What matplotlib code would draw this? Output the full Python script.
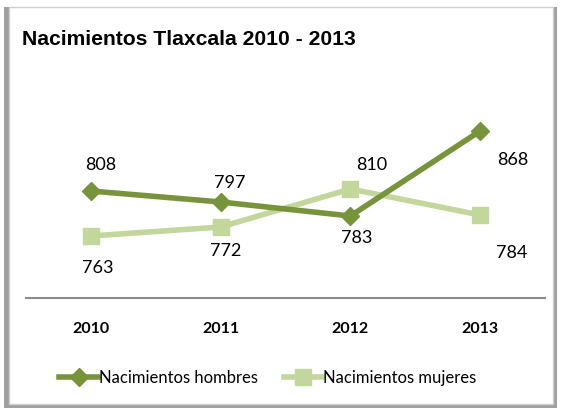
import matplotlib.pyplot as plt
from matplotlib.patches import FancyBboxPatch

years = ['2010', '2011', '2012', '2013']
hombres = [808, 797, 783, 868]
mujeres = [763, 772, 810, 784]

body_font = 'Lato'
c_h = '#77933C'
c_m = '#C3D69B'

fig = plt.figure(figsize=(5.61, 4.13), dpi=100)

# frame with shadow
shadow = FancyBboxPatch((0.008, 0.012), 0.984, 0.972, boxstyle='square,pad=0',
                        transform=fig.transFigure, facecolor='#a0a0a0', edgecolor='none', zorder=0)
frame = FancyBboxPatch((0.016, 0.022), 0.97, 0.962, boxstyle='square,pad=0',
                       transform=fig.transFigure, facecolor='white', edgecolor='#d0d0d0', lw=1, zorder=1)
fig.patches.extend([shadow, frame])

fig.text(0.039, 0.891, 'Nacimientos Tlaxcala 2010 - 2013', ha='left', va='baseline', zorder=3,
         family='Liberation Sans', fontweight='bold', fontsize=15.2)

ax = fig.add_axes([26 / 561, 1 - 298 / 413, 519 / 561, 182 / 413])
ax.set_zorder(2)
ax.patch.set_alpha(0)
x = range(len(years))
ax.plot(x, hombres, color=c_h, lw=4, marker='D', markersize=9, label='Nacimientos hombres', zorder=3)
ax.plot(x, mujeres, color=c_m, lw=4, marker='s', markersize=11, label='Nacimientos mujeres', zorder=2)

ax.set_xlim(-0.5, 3.5)
ax.set_ylim(701, 883)
ax.set_xticks(list(x))
ax.set_xticklabels(years, fontsize=11.5, fontweight='bold', family=body_font)
ax.tick_params(axis='x', length=0, pad=17)
ax.set_yticks([])
for s in ['top', 'left', 'right']:
    ax.spines[s].set_visible(False)
ax.spines['bottom'].set_color('#8c8c8c')
ax.spines['bottom'].set_linewidth(1.5)

off_h = [(10, 26), (9, 19), (6, -22), (33, -29)]
off_m = [(7, -32), (5, -24), (21, 24), (32, -38)]
for i in x:
    ax.annotate(str(hombres[i]), (i, hombres[i]), xytext=off_h[i], textcoords='offset pixels',
                ha='center', va='center', fontsize=13, family=body_font)
    ax.annotate(str(mujeres[i]), (i, mujeres[i]), xytext=off_m[i], textcoords='offset pixels',
                ha='center', va='center', fontsize=13, family=body_font)

leg = fig.legend(loc='center', bbox_to_anchor=(268 / 561, 1 - 378 / 413), ncol=2, frameon=False,
                 prop={'family': body_font, 'size': 12}, handlelength=2.3, handletextpad=0.05,
                 columnspacing=1.6)

fig.savefig('out.png', dpi=100)
